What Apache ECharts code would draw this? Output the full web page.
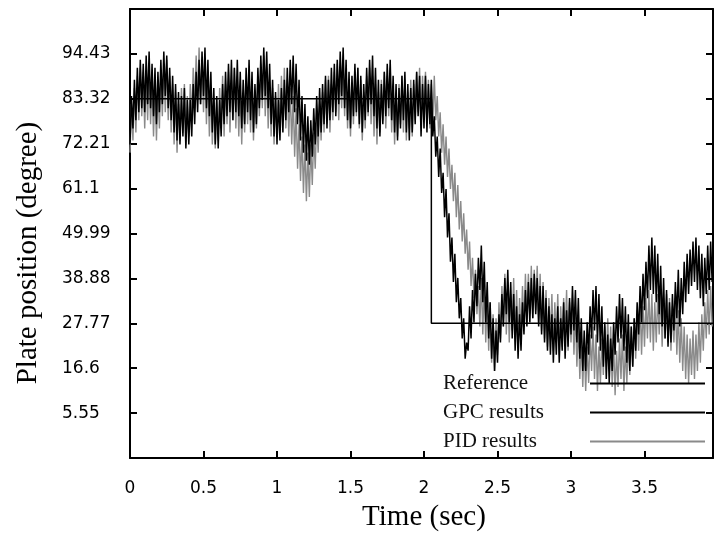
<!DOCTYPE html>
<html>
<head>
<meta charset="utf-8">
<script src="https://cdn.jsdelivr.net/npm/echarts@6/dist/echarts.min.js"></script>
<style>
  html, body { margin: 0; padding: 0; background: #fff; }
  #chart { width: 714px; height: 543px; }
</style>
</head>
<body>
<div id="chart"></div>
<script>
// ---- data ----
const seriesNames = ['Reference', 'GPC results', 'PID results'];

const xTickValues = [0, 0.5, 1, 1.5, 2, 2.5, 3, 3.5];
const xTickLabels = ['0', '0.5', '1', '1.5', '2', '2.5', '3', '3.5'];
const yTickValues = [5.55, 16.66, 27.77, 38.88, 49.99, 61.1, 72.21, 83.32, 94.43];
const yTickLabels = ['5.55', '16.6', '27.77', '38.88', '49.99', '61.1', '72.21', '83.32', '94.43'];

// reference (step command)
const refTimes  = [0, 2.05, 2.05, 3.966];
const refValues = [83.32, 83.32, 27.77, 27.77];

// sampling step of the measured signals (sec)
const sampleStep = 0.01;

// GPC results, one value every 0.01 s from t = 0
const gpcValues = [
  72, 84, 76, 88, 78, 91, 80, 93, 81, 92,
  80, 94, 82, 95, 81, 92, 79, 91, 77, 90,
  80, 93, 82, 95, 84, 94, 81, 91, 78, 89,
  75, 87, 73, 85, 72, 84, 74, 86, 71, 83,
  72, 83, 74, 87, 77, 90, 80, 93, 82, 95,
  84, 96, 81, 93, 79, 90, 75, 86, 72, 84,
  71, 83, 74, 87, 77, 90, 79, 92, 80, 93,
  78, 91, 80, 93, 79, 90, 76, 88, 77, 91,
  80, 93, 78, 90, 75, 87, 77, 91, 81, 94,
  83, 96, 84, 95, 81, 92, 77, 88, 74, 85,
  72, 83, 73, 86, 75, 88, 78, 91, 80, 93,
  82, 94, 80, 92, 77, 88, 73, 84, 70, 82,
  68, 79, 67, 78, 69, 81, 72, 84, 74, 86,
  75, 87, 77, 89, 76, 88, 78, 91, 80, 92,
  79, 93, 82, 95, 84, 96, 81, 93, 78, 90,
  76, 89, 79, 92, 80, 91, 77, 89, 75, 87,
  78, 91, 80, 93, 82, 94, 79, 91, 76, 88,
  74, 87, 77, 90, 79, 92, 81, 93, 78, 89,
  75, 87, 73, 86, 76, 89, 78, 90, 75, 87,
  73, 86, 75, 88, 77, 90, 79, 89, 74, 87,
  76, 89, 75, 87, 77, 88, 74, 79, 69, 74,
  64, 71, 60, 65, 54, 61, 49, 55, 43, 49,
  38, 45, 33, 39, 29, 34, 24, 29, 19, 23,
  21, 32, 24, 36, 28, 40, 32, 44, 36, 47,
  33, 43, 28, 38, 24, 33, 19, 29, 16, 26,
  18, 30, 23, 35, 27, 39, 30, 41, 28, 38,
  24, 35, 21, 32, 19, 30, 21, 33, 25, 36,
  27, 38, 28, 39, 29, 40, 30, 39, 27, 37,
  25, 37, 23, 34, 21, 32, 20, 30, 18, 29,
  20, 32, 18, 29, 21, 33, 19, 31, 22, 34,
  25, 37, 26, 36, 23, 34, 19, 29, 16, 26,
  16, 28, 20, 32, 24, 36, 26, 37, 23, 35,
  21, 32, 17, 28, 14, 25, 13, 24, 16, 28,
  20, 32, 23, 35, 24, 34, 21, 32, 18, 30,
  16, 27, 17, 29, 21, 33, 25, 37, 28, 40,
  31, 43, 34, 47, 36, 49, 35, 47, 33, 45,
  30, 42, 27, 39, 24, 36, 22, 33, 23, 35,
  26, 38, 29, 41, 27, 39, 30, 43, 33, 45,
  35, 46, 37, 48, 38, 49, 36, 47, 34, 45,
  32, 44, 35, 47, 36, 48, 38
];

// PID results, one value every 0.01 s from t = 0
const pidValues = [
  70, 82, 73, 86, 75, 89, 78, 91, 79, 90,
  76, 89, 78, 91, 77, 88, 74, 87, 73, 86,
  76, 90, 79, 92, 80, 93, 78, 89, 75, 87,
  72, 85, 70, 82, 73, 86, 75, 87, 72, 84,
  74, 87, 78, 91, 81, 94, 83, 96, 82, 93,
  80, 92, 77, 89, 74, 86, 72, 84, 71, 83,
  73, 86, 76, 89, 74, 87, 77, 90, 75, 88,
  78, 91, 76, 89, 74, 86, 72, 85, 75, 88,
  77, 90, 75, 87, 73, 85, 76, 89, 79, 92,
  81, 94, 79, 91, 76, 88, 74, 86, 72, 84,
  74, 87, 76, 89, 78, 91, 76, 88, 74, 86,
  72, 84, 69, 81, 66, 77, 63, 74, 60, 72,
  58, 70, 59, 72, 62, 75, 66, 79, 70, 82,
  73, 85, 75, 88, 77, 89, 75, 87, 78, 90,
  80, 92, 78, 90, 81, 93, 79, 91, 76, 88,
  74, 87, 77, 90, 79, 91, 76, 88, 73, 85,
  76, 89, 79, 91, 77, 89, 74, 87, 72, 85,
  75, 88, 78, 90, 76, 89, 79, 91, 75, 87,
  72, 85, 74, 87, 77, 89, 75, 88, 73, 85,
  76, 88, 74, 87, 78, 90, 80, 91, 76, 89,
  78, 90, 77, 88, 76, 87, 77, 89, 78, 84,
  74, 80, 70, 77, 67, 74, 64, 71, 61, 67,
  58, 65, 54, 62, 51, 58, 48, 55, 45, 51,
  41, 48, 37, 44, 34, 41, 30, 37, 27, 39,
  25, 38, 23, 36, 21, 33, 18, 30, 16, 29,
  20, 33, 24, 37, 27, 40, 25, 38, 23, 35,
  26, 39, 24, 36, 22, 34, 25, 37, 27, 40,
  28, 40, 30, 42, 29, 41, 31, 42, 28, 40,
  26, 38, 24, 36, 22, 34, 24, 35, 21, 33,
  23, 35, 20, 32, 22, 34, 24, 36, 21, 33,
  23, 34, 20, 31, 17, 28, 14, 25, 12, 23,
  11, 22, 13, 25, 16, 27, 14, 25, 11, 22,
  13, 24, 15, 27, 18, 29, 16, 27, 12, 23,
  10, 21, 12, 24, 14, 25, 11, 22, 13, 24,
  15, 27, 17, 29, 19, 31, 21, 33, 20, 32,
  22, 34, 24, 36, 23, 35, 21, 33, 23, 35,
  25, 36, 22, 34, 24, 35, 23, 34, 21, 32,
  23, 34, 20, 31, 18, 29, 16, 27, 14, 25,
  13, 24, 15, 26, 14, 25, 16, 28, 18, 30,
  21, 33, 24, 36, 25, 37, 27
];

// ---- build chart ----
const sampled = vals => vals.map((v, i) => [Math.round(i * sampleStep * 100) / 100, v]);
const refData = refTimes.map((t, i) => [t, refValues[i]]);

const tickFont = () => ({ fontFamily: '"DejaVu Sans", sans-serif', fontSize: 17, color: '#000' });

const chart = echarts.init(document.getElementById('chart'), null, { renderer: 'canvas' });
chart.setOption({
  animation: false,
  backgroundColor: '#fff',
  grid: { left: 130, right: 1, top: 9, bottom: 85 },
  xAxis: [
    {
      type: 'value', position: 'bottom', min: 0, max: 3.966,
      axisLine: { show: true, onZero: false, lineStyle: { color: '#000', width: 2 } },
      axisTick: { show: true, inside: true, length: 7, customValues: xTickValues, lineStyle: { color: '#000', width: 2 } },
      axisLabel: Object.assign({
        customValues: xTickValues, margin: 22,
        formatter: v => xTickLabels[xTickValues.indexOf(v)] ?? ''
      }, tickFont()),
      splitLine: { show: false }
    },
    {
      type: 'value', position: 'top', min: 0, max: 3.966,
      axisLine: { show: true, onZero: false, lineStyle: { color: '#000', width: 2 } },
      axisTick: { show: true, inside: true, length: 7, customValues: xTickValues, lineStyle: { color: '#000', width: 2 } },
      axisLabel: { show: false, customValues: xTickValues },
      splitLine: { show: false }
    }
  ],
  yAxis: [
    {
      type: 'value', position: 'left', min: -5.56, max: 105.54,
      axisLine: { show: true, onZero: false, lineStyle: { color: '#000', width: 2 } },
      axisTick: { show: true, inside: true, length: 7, customValues: yTickValues, lineStyle: { color: '#000', width: 2 } },
      axisLabel: Object.assign({
        customValues: yTickValues, margin: 18,
        formatter: v => '{a|' + (yTickLabels[yTickValues.indexOf(v)] ?? '') + '}',
        rich: { a: Object.assign({ width: 50, align: 'left' }, tickFont()) }
      }, tickFont()),
      splitLine: { show: false }
    },
    {
      type: 'value', position: 'right', min: -5.56, max: 105.54,
      axisLine: { show: true, onZero: false, lineStyle: { color: '#000', width: 2 } },
      axisTick: { show: true, inside: true, length: 7, customValues: yTickValues, lineStyle: { color: '#000', width: 2 } },
      axisLabel: { show: false, customValues: yTickValues },
      splitLine: { show: false }
    }
  ],
  legend: {
    orient: 'vertical',
    left: 438, top: 368,
    align: 'right',
    icon: 'rect',
    itemWidth: 115, itemHeight: 2, itemGap: 8,
    data: seriesNames,
    formatter: name => '{t|' + name + '}',
    textStyle: {
      fontFamily: '"Liberation Serif", serif', fontSize: 21, color: '#111',
      rich: { t: { width: 142, align: 'left', fontFamily: '"Liberation Serif", serif', fontSize: 21, color: '#111' } }
    }
  },
  graphic: [
    {
      type: 'text', x: 28, y: 253, rotation: Math.PI / 2, silent: true,
      style: {
        text: 'Plate position (degree)', fill: '#000',
        font: '29px "Liberation Serif", serif',
        textAlign: 'center', textVerticalAlign: 'middle',
        align: 'center', verticalAlign: 'middle'
      }
    },
    {
      type: 'text', x: 424, y: 517, silent: true,
      style: {
        text: 'Time (sec)', fill: '#000',
        font: '29px "Liberation Serif", serif',
        textAlign: 'center', textVerticalAlign: 'middle',
        align: 'center', verticalAlign: 'middle'
      }
    }
  ],
  series: [
    {
      name: 'PID results', type: 'line', data: sampled(pidValues),
      symbol: 'none',
      lineStyle: { color: '#8a8a8a', width: 1.4 }, itemStyle: { color: '#8a8a8a' }
    },
    {
      name: 'GPC results', type: 'line', data: sampled(gpcValues),
      symbol: 'none',
      lineStyle: { color: '#000', width: 1.5 }, itemStyle: { color: '#000' }
    },
    {
      name: 'Reference', type: 'line', data: refData,
      symbol: 'none',
      lineStyle: { color: '#000', width: 1.5 }, itemStyle: { color: '#000' }
    }
  ]
});
</script>
</body>
</html>
